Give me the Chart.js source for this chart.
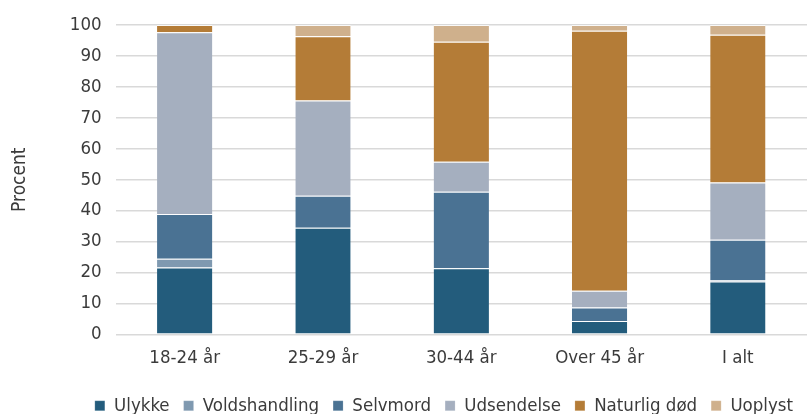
<!DOCTYPE html>
<html>
<head>
<meta charset="utf-8">
<script src="https://cdn.jsdelivr.net/npm/chart.js@4"></script>
<style>
  html, body { margin: 0; padding: 0; background: #fff; }
  #wrap { width: 807px; height: 414px; }
</style>
</head>
<body>
<div id="wrap"><canvas id="chart" width="807" height="414"></canvas></div>
<script>
const categories = ["18-24 år", "25-29 år", "30-44 år", "Over 45 år", "I alt"];

const ulykke = [21.6, 34.5, 21.4, 4.3, 17.1];
const voldshandling = [2.8, 0, 0, 0, 0.4];
const selvmord = [14.5, 10.3, 24.7, 4.4, 13.1];
const udsendelse = [58.8, 30.8, 9.7, 5.4, 18.5];
const naturligDod = [2.3, 20.8, 38.8, 84.1, 47.8];
const uoplyst = [0, 3.6, 5.4, 1.8, 3.1];

const yTicks = [0, 10, 20, 30, 40, 50, 60, 70, 80, 90, 100];

const textColor = "#3b3b3b";
const font = "'DejaVu Sans Condensed', 'Liberation Sans Narrow', sans-serif";

function series(label, data, color) {
  return {
    label: label,
    data: data,
    backgroundColor: color,
    borderColor: "rgba(255,255,255,0.7)",
    borderWidth: { top: 1, right: 0, bottom: 0, left: 0 },
    borderSkipped: "start",
    barPercentage: 0.4,
    categoryPercentage: 1,
  };
}

new Chart(document.getElementById("chart"), {
  type: "bar",
  data: {
    labels: categories,
    datasets: [
      series("Ulykke", ulykke, "#235c7c"),
      series("Voldshandling", voldshandling, "#7f99b0"),
      series("Selvmord", selvmord, "#4a7293"),
      series("Udsendelse", udsendelse, "#a5afbf"),
      series("Naturlig død", naturligDod, "#b47c37"),
      series("Uoplyst", uoplyst, "#cfb08c"),
    ],
  },
  options: {
    responsive: false,
    animation: false,
    layout: { padding: { top: 12, right: 0, bottom: -11, left: 9 } },
    scales: {
      x: {
        stacked: true,
        grid: { display: false, drawTicks: false },
        border: { display: false },
        ticks: { color: textColor, font: { family: font, size: 18.5 }, padding: 13 },
      },
      y: {
        stacked: true,
        min: 0,
        max: 100,
        afterBuildTicks: (axis) => { axis.ticks = yTicks.map((v) => ({ value: v })); },
        grid: { color: "#d9d9d9", lineWidth: 1.5, drawTicks: false },
        border: { display: false },
        ticks: { color: textColor, font: { family: font, size: 18.5 }, padding: 14 },
        title: {
          display: true,
          text: "Procent",
          color: textColor,
          font: { family: font, size: 19 },
          padding: { top: 0, bottom: 24 },
        },
      },
    },
    plugins: {
      legend: {
        position: "bottom",
        align: "end",
        labels: {
          color: textColor,
          font: { family: font, size: 18.5 },
          boxWidth: 10,
          boxHeight: 10,
          padding: 14,
        },
      },
      tooltip: { enabled: false },
    },
  },
});
</script>
</body>
</html>
